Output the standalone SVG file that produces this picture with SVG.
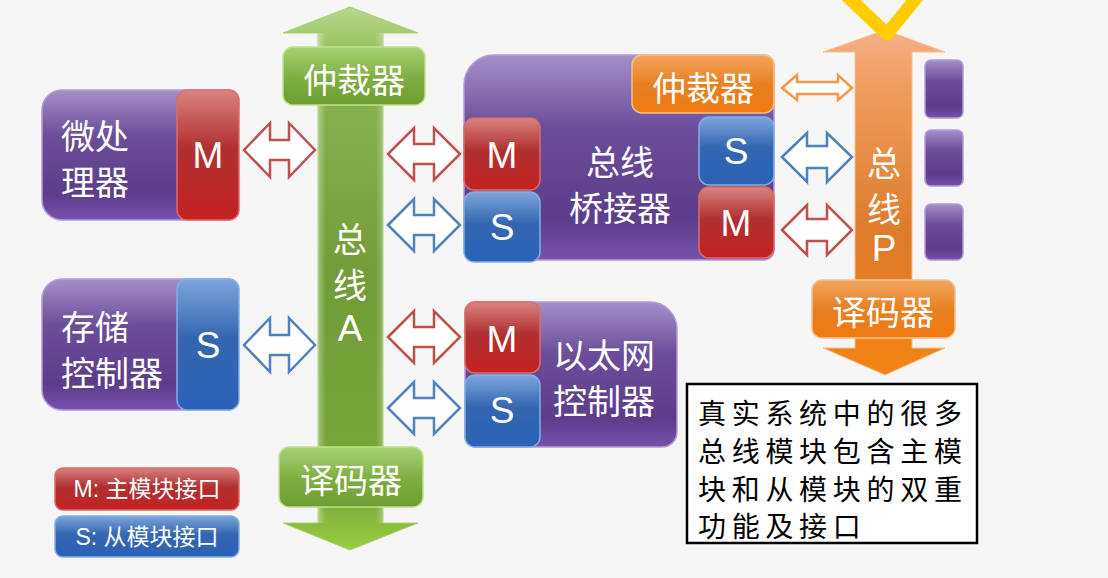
<svg xmlns="http://www.w3.org/2000/svg" width="1108" height="578" viewBox="0 0 1108 578">
<defs>
<linearGradient id="gPurple" x1="0" y1="0" x2="0" y2="1"><stop offset="0" stop-color="#a590c9"/><stop offset="0.35" stop-color="#6b4e99"/><stop offset="0.8" stop-color="#5c3d8b"/><stop offset="1" stop-color="#7751ad"/></linearGradient>
<linearGradient id="gRed" x1="0" y1="0" x2="0" y2="1"><stop offset="0" stop-color="#d9837f"/><stop offset="0.45" stop-color="#b0302f"/><stop offset="1" stop-color="#c42222"/></linearGradient>
<linearGradient id="gBlue" x1="0" y1="0" x2="0" y2="1"><stop offset="0" stop-color="#7ea6dc"/><stop offset="0.45" stop-color="#3466b0"/><stop offset="1" stop-color="#2a62b8"/></linearGradient>
<linearGradient id="gGreen" x1="0" y1="0" x2="0" y2="1"><stop offset="0" stop-color="#a9d176"/><stop offset="0.5" stop-color="#80b044"/><stop offset="1" stop-color="#6d9c30"/></linearGradient>
<linearGradient id="gOrange" x1="0" y1="0" x2="0" y2="1"><stop offset="0" stop-color="#f3a65e"/><stop offset="0.5" stop-color="#e88022"/><stop offset="1" stop-color="#f07a10"/></linearGradient>
<linearGradient id="gBusA" x1="0" y1="0" x2="0" y2="1"><stop offset="0" stop-color="#b8d888"/><stop offset="0.12" stop-color="#8ab450"/><stop offset="0.5" stop-color="#719c38"/><stop offset="0.9" stop-color="#78a838"/><stop offset="1" stop-color="#9ccc40"/></linearGradient>
<linearGradient id="gBusAh" x1="0" y1="0" x2="1" y2="0"><stop offset="0" stop-color="#ffffff" stop-opacity="0.35"/><stop offset="0.12" stop-color="#ffffff" stop-opacity="0"/><stop offset="0.88" stop-color="#ffffff" stop-opacity="0"/><stop offset="1" stop-color="#ffffff" stop-opacity="0.25"/></linearGradient>
<linearGradient id="gBusP" x1="0" y1="0" x2="0" y2="1"><stop offset="0" stop-color="#f6b088"/><stop offset="0.2" stop-color="#ec9a58"/><stop offset="0.6" stop-color="#de7a2a"/><stop offset="1" stop-color="#f58414"/></linearGradient>
</defs>
<style>
.t{font-family:"Noto Sans CJK SC","Noto Sans",sans-serif;fill:#fff;font-size:34px;text-anchor:middle;dominant-baseline:central}
.l{font-family:"Liberation Sans","Noto Sans CJK SC",sans-serif;fill:#fff;font-size:37px;text-anchor:middle;dominant-baseline:central}
.lg{font-family:"Liberation Sans","Noto Sans CJK SC",sans-serif;fill:#fff;font-size:23px;text-anchor:middle;dominant-baseline:central}
.note{font-family:"Noto Sans CJK SC",sans-serif;fill:#000;font-size:28px;letter-spacing:5.7px;dominant-baseline:central}
.pu{fill:url(#gPurple);stroke:#b49ad8;stroke-width:1.5}
.rd{fill:url(#gRed);stroke:#e06a6a;stroke-width:1.5}
.bl{fill:url(#gBlue);stroke:#82aee6;stroke-width:1.5}
.gr{fill:url(#gGreen);stroke:#c2e08e;stroke-width:1.5}
.or{fill:url(#gOrange);stroke:#f8c08a;stroke-width:1.5}
.ar{fill:#fff;stroke-width:2.5;stroke-linejoin:miter}
.ar-r{stroke:#c0504d}
.ar-b{stroke:#4f81bd}
.ar-o{stroke:#f79646}
</style>
<rect width="1108" height="578" fill="#f6f6f6"/>

<g id="busA">
<polygon points="350,7 418,33 383,33 383,523 418,523 350,550 283,523 318,523 318,33 283,33" fill="url(#gBusA)" stroke="#a8d070" stroke-width="1"/>
<rect x="318" y="33" width="65" height="490" fill="url(#gBusAh)"/>
<text class="t" x="350" y="237">总<tspan x="350" dy="46">线</tspan><tspan x="350" dy="45" font-family="Liberation Sans" font-size="37">A</tspan></text>
</g>
<g id="arbiterA">
<rect class="gr" x="283" y="47" width="142" height="58" rx="10"/>
<text class="t" x="354" y="78">仲裁器</text>
</g>
<g id="decoderA">
<rect class="gr" x="279" y="447" width="144" height="60" rx="10"/>
<text class="t" x="351" y="478">译码器</text>
</g>

<g id="busP">
<polygon points="885,30 945,52 912,52 912,348 945,348 885,375 823,348 855,348 855,52 823,52" fill="url(#gBusP)" stroke="#f8c090" stroke-width="1"/>
<text class="t" x="884" y="161">总<tspan x="884" dy="46">线</tspan><tspan x="884" dy="41" font-family="Liberation Sans" font-size="37">P</tspan></text>
</g>
<g id="decoderP">
<rect class="or" x="812" y="280" width="143" height="58" rx="10"/>
<text class="t" x="883" y="310">译码器</text>
</g>
<g id="devP">
<rect class="pu" x="925" y="60" width="38" height="58" rx="6"/>
<rect class="pu" x="925" y="130" width="38" height="56" rx="6"/>
<rect class="pu" x="925" y="204" width="38" height="56" rx="6"/>
</g>

<g id="cpu">
<path class="pu" d="M62,90 H230 V220 H62 A20,20 0 0 1 42,200 V110 A20,20 0 0 1 62,90 Z"/>
<rect class="rd" x="177" y="90" width="62" height="130" rx="10"/>
<text class="t" x="95" y="134">微处<tspan x="95" dy="46">理器</tspan></text>
<text class="l" x="208" y="155">M</text>
</g>

<g id="memctrl">
<path class="pu" d="M62,279 H230 V410 H62 A20,20 0 0 1 42,390 V299 A20,20 0 0 1 62,279 Z"/>
<rect class="bl" x="177" y="279" width="62" height="131" rx="10"/>
<text class="t" x="95" y="325">存储<tspan x="112" dy="46">控制器</tspan></text>
<text class="l" x="208" y="345">S</text>
</g>

<g id="bridge">
<path class="pu" d="M494,55 H764 A10,10 0 0 1 774,65 V250 A10,10 0 0 1 764,260 H474 A10,10 0 0 1 464,250 V85 A30,30 0 0 1 494,55 Z"/>
<rect class="or" x="632" y="55" width="142" height="58" rx="10"/>
<text class="t" x="703" y="86">仲裁器</text>
<rect class="rd" x="464" y="118" width="76" height="72" rx="10"/>
<text class="l" x="502" y="155">M</text>
<rect class="bl" x="464" y="192" width="76" height="70" rx="10"/>
<text class="l" x="502" y="227">S</text>
<rect class="bl" x="699" y="117" width="75" height="68" rx="10"/>
<text class="l" x="736" y="151">S</text>
<rect class="rd" x="699" y="187" width="75" height="71" rx="10"/>
<text class="l" x="736" y="223">M</text>
<text class="t" x="620" y="160">总线<tspan x="620" dy="46">桥接器</tspan></text>
</g>

<g id="ethernet">
<path class="pu" d="M475,302 H650 A27,27 0 0 1 677,329 V432 A15,15 0 0 1 662,447 H475 A10,10 0 0 1 465,437 V312 A10,10 0 0 1 475,302 Z"/>
<rect class="rd" x="465" y="302" width="75" height="71" rx="10"/>
<text class="l" x="502" y="339">M</text>
<rect class="bl" x="465" y="375" width="75" height="72" rx="10"/>
<text class="l" x="502" y="410">S</text>
<text class="t" x="604" y="353">以太网<tspan x="604" dy="46">控制器</tspan></text>
</g>

<g id="connectors">
<path class="ar ar-r" d="M244,150 L270,123 L270,140 L289,140 L289,123 L315,150 L289,177 L289,160 L270,160 L270,177 Z"/>
<path class="ar ar-b" d="M244,345 L270,318 L270,335 L289,335 L289,318 L315,345 L289,372 L289,355 L270,355 L270,372 Z"/>
<path class="ar ar-r" d="M388,154 L414,128 L414,144 L434,144 L434,128 L460,154 L434,180 L434,164 L414,164 L414,180 Z"/>
<path class="ar ar-b" d="M388,225 L414,199 L414,215 L434,215 L434,199 L460,225 L434,251 L434,235 L414,235 L414,251 Z"/>
<path class="ar ar-r" d="M388,337 L414,311 L414,327 L434,327 L434,311 L460,337 L434,363 L434,347 L414,347 L414,363 Z"/>
<path class="ar ar-b" d="M388,408 L414,382 L414,398 L434,398 L434,382 L460,408 L434,434 L434,418 L414,418 L414,434 Z"/>
<path class="ar ar-o" d="M782,88 L797,75 L797,82 L838,82 L838,75 L852,88 L838,100 L838,94 L797,94 L797,100 Z"/>
<path class="ar ar-b" d="M782,157 L807,133 L807,146 L827,146 L827,133 L852,157 L827,182 L827,168 L807,168 L807,182 Z"/>
<path class="ar ar-r" d="M782,230 L807,205 L807,219 L827,219 L827,205 L852,230 L827,255 L827,241 L807,241 L807,255 Z"/>
</g>

<g id="legend">
<rect class="rd" x="55" y="468" width="184" height="42" rx="8"/>
<text class="lg" x="147" y="489">M: 主模块接口</text>
<rect class="bl" x="55" y="516" width="184" height="41" rx="8"/>
<text class="lg" x="147" y="537">S: 从模块接口</text>
</g>

<g id="note">
<rect x="687" y="384" width="290" height="159" fill="#fff" stroke="#000" stroke-width="2.5"/>
<text class="note" x="698" y="412">真实系统中的很多</text>
<text class="note" x="698" y="450">总线模块包含主模</text>
<text class="note" x="698" y="488">块和从模块的双重</text>
<text class="note" x="698" y="525">功能及接口</text>
</g>

<path d="M847,-4 L887,34 L918,-4" fill="none" stroke="#ffcc00" stroke-width="13" stroke-linecap="round" stroke-linejoin="round"/>
</svg>
